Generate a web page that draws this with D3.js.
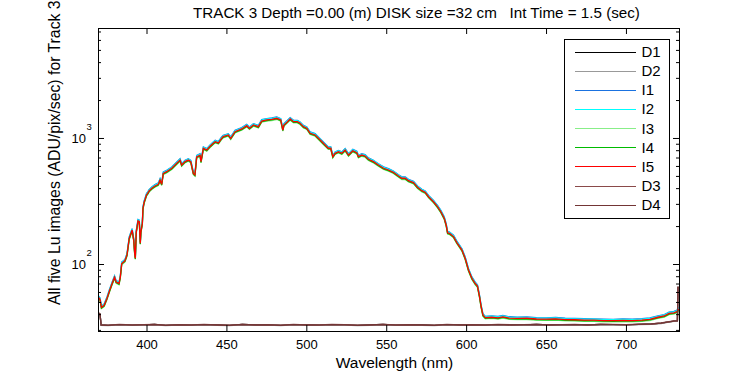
<!DOCTYPE html>
<html>
<head>
<meta charset="utf-8">
<script src="https://cdn.jsdelivr.net/npm/d3@7"></script>
<style>
  body { margin: 0; background: #fff; }
  svg { font-family: Arial, "Liberation Sans", sans-serif; }
</style>
</head>
<body>
<svg width="750" height="375"></svg>
<script>
// wavelength grid (nm) and the I5 spectrum
const wavelength = [
  369.7, 370.9, 371.8, 373.5, 375.3, 377, 378.3, 380, 381, 382.8, 383.6, 384.5, 386.5, 387.8,
  389.2, 391, 392, 392.6, 393, 393.6, 394.7, 395.5, 396.1, 396.5, 397.4, 397.8, 398.6, 399,
  400, 401, 401.6, 403.3, 405.3, 407.4, 408.5, 409.5, 410.5, 412.6, 415.8, 418.9, 421, 422,
  424.1, 426.2, 427.7, 429.3, 430.3, 431.4, 433.5, 434.1, 435.6, 437.7, 439.8, 441.8, 443, 445,
  447, 448, 451.2, 452.7, 455.4, 459.6, 462.7, 464.4, 466.9, 470, 472.1, 475.3, 478.4, 481.5,
  484, 485.3, 486, 488.2, 489.9, 492, 494.4, 496.1, 498.2, 500.3, 502.4, 505.5, 507.6, 510.7,
  513.8, 515.3, 516.6, 518, 520.1, 522.2, 524.3, 526.4, 529.1, 531.6, 532.6, 534.7, 536.8, 538.9,
  542, 545.1, 548.3, 551.4, 554.5, 557.7, 559.8, 561.9, 563.9, 567.1, 569.6, 572.3, 574.4, 576.5,
  579.6, 582.1, 584.2, 586.3, 587.5, 588.4, 589.6, 592.1, 594.2, 597.4, 599.4, 601.5, 603.6, 605.7,
  607.1, 608.4, 609.4, 610.5, 612, 616, 620, 623, 627, 632, 638, 644, 650, 656,
  662, 668, 674, 680, 686, 692, 698, 704, 710, 715, 720, 724, 727, 730,
  732, 733.2
]
const luI5 = [
  55, 52.5, 45.3, 47, 53.5, 62, 69, 78.5, 72, 70, 78.5, 101, 106, 118,
  160, 186, 155, 122, 111, 180, 220, 217, 146, 180, 210, 277, 312, 322,
  353, 368, 380, 399, 416, 429, 464, 429, 524, 540, 575, 630, 668, 610,
  649, 668, 649, 524, 509, 708, 730, 649, 829, 803, 860, 907, 935, 915,
  994, 1024, 1056, 994, 1122, 1179, 1252, 1194, 1268, 1229, 1364, 1390, 1407, 1433,
  1390, 1157, 1268, 1347, 1415, 1347, 1347, 1308, 1229, 1194, 1090, 1056, 994, 907,
  829, 829, 711, 756, 778, 756, 803, 732, 793, 765, 711, 732, 720, 678,
  649, 610, 575, 557, 534, 499, 479, 479, 458, 442, 406, 382, 371, 342,
  312, 285, 260, 231, 204, 177, 175, 165, 148, 129, 111, 89.5, 77, 70,
  66.7, 55, 45.8, 39.4, 37.5, 37.8, 37.4, 38.1, 37.2, 37.0, 37.1, 36.6, 36.5, 36.7,
  36.2, 36.1, 35.9, 35.8, 35.6, 35.5, 35.7, 35.6, 35.9, 36.4, 37.8, 38.7, 40.5, 41,
  42, 44
]

// dark frames
const darkWavelength = [
  369.7, 370.9, 371.6, 376, 383, 391, 398, 405, 412, 420, 428, 436, 444, 452,
  460, 468, 476, 484, 492, 500, 508, 516, 524, 532, 540, 548, 556, 564,
  572, 580, 588, 596, 604, 612, 620, 628, 636, 644, 652, 660, 668, 676,
  684, 692, 700, 708, 716, 722, 726, 730, 732.2, 732.6
]
const darkLu = [
  41, 40, 32.8, 32.6, 33.0, 32.7, 32.9, 33.1, 32.6, 32.9, 32.7, 33.0, 32.8, 32.6,
  33.1, 32.8, 32.9, 32.6, 33.0, 32.8, 32.7, 33.0, 32.9, 32.6, 32.8, 33.1, 32.7, 32.9,
  32.8, 32.6, 33.0, 32.8, 32.9, 32.7, 33.0, 32.8, 32.9, 33.1, 32.8, 32.9, 33.0, 32.8,
  33.1, 33.0, 32.9, 33.2, 33.4, 33.9, 34.6, 35.2, 35.4, 66
]

// legend order = drawing order
const seriesNames = ["D1", "D2", "I1", "I2", "I3", "I4", "I5", "D3", "D4"]
const seriesKind = ["dark", "dark", "light", "light", "light", "light", "light", "dark", "dark"]
// relative level of each image against I5 / the dark reference
const seriesGain = [1.0, 0.995, 1.025, 1.018, 0.978, 0.988, 1.0, 1.004, 1.0]
const seriesColors = ["#000000", "#999999", "#1a72e0", "#00ffff", "#88ee88", "#00bb00", "#ff0000", "#8a4a4a", "#733535"]

const xTicks = [400, 450, 500, 550, 600, 650, 700]
const yMajor = [100, 1000]
const yMinor = [30, 40, 50, 60, 70, 80, 90, 200, 300, 400, 500, 600, 700, 800, 900, 2000, 3000, 4000, 5000, 6000, 7000]

const titleText = "TRACK 3 Depth =0.00 (m) DISK size =32 cm   Int Time = 1.5 (sec)"

const plotLeft = 98, plotRight = 679, plotTop = 28, plotBottom = 331

const svg = d3.select("svg")

const x = d3.scaleLinear()
  .domain([369.65, 733.2])
  .range([plotLeft, plotRight])

const y = d3.scaleLog()
  .domain([29.4, 7460])
  .range([plotBottom, plotTop])

svg.append("defs")
  .append("clipPath")
  .attr("id", "plot")
  .append("rect")
  .attr("x", plotLeft)
  .attr("y", plotTop)
  .attr("width", plotRight - plotLeft)
  .attr("height", plotBottom - plotTop)

// series lines
const line = d3.line()
  .x(d => x(d[0]))
  .y(d => y(d[1]))

const plot = svg.append("g").attr("clip-path", "url(#plot)")

seriesNames.forEach((name, i) => {
  let pts
  if (seriesKind[i] == "dark") {
    pts = darkWavelength.map((w, j) => [w, darkLu[j] * seriesGain[i]])
  } else {
    pts = wavelength.map((w, j) => [w, luI5[j] * seriesGain[i]])
  }
  plot.append("path")
    .datum(pts)
    .attr("fill", "none")
    .attr("stroke", seriesColors[i])
    .attr("stroke-width", 1.3)
    .attr("d", line)
})

// axes, ticks pointing inward
const styleAxis = g => {
  g.select(".domain").remove()
  g.attr("font-size", 13).attr("font-family", null)
  g.selectAll("text").attr("fill", "#000")
}

svg.append("g")
  .attr("transform", `translate(0, ${plotBottom})`)
  .call(d3.axisBottom(x).tickValues(xTicks).tickSizeInner(-6).tickSizeOuter(0).tickPadding(9))
  .call(styleAxis)

svg.append("g")
  .attr("transform", `translate(0, ${plotTop})`)
  .call(d3.axisTop(x).tickValues(xTicks).tickSizeInner(-6).tickSizeOuter(0).tickFormat(""))
  .call(styleAxis)

svg.append("g")
  .attr("transform", `translate(${plotLeft}, 0)`)
  .call(d3.axisLeft(y).tickValues(yMajor).tickSizeInner(-6).tickSizeOuter(0).tickFormat(""))
  .call(styleAxis)

svg.append("g")
  .attr("transform", `translate(${plotLeft}, 0)`)
  .call(d3.axisLeft(y).tickValues(yMinor).tickSizeInner(-3).tickSizeOuter(0).tickFormat(""))
  .call(styleAxis)

svg.append("g")
  .attr("transform", `translate(${plotRight}, 0)`)
  .call(d3.axisRight(y).tickValues(yMajor).tickSizeInner(-6).tickSizeOuter(0).tickFormat(""))
  .call(styleAxis)

svg.append("g")
  .attr("transform", `translate(${plotRight}, 0)`)
  .call(d3.axisRight(y).tickValues(yMinor).tickSizeInner(-3).tickSizeOuter(0).tickFormat(""))
  .call(styleAxis)

// 10^n labels
yMajor.forEach(v => {
  svg.append("text")
    .attr("x", 86)
    .attr("y", y(v) + 5)
    .attr("text-anchor", "end")
    .attr("font-size", 13)
    .text("10")
  svg.append("text")
    .attr("x", 86.5)
    .attr("y", y(v) - 8)
    .attr("font-size", 9.5)
    .text(Math.round(Math.log10(v)))
})

// frame
svg.append("rect")
  .attr("x", plotLeft + 0.5)
  .attr("y", plotTop + 0.5)
  .attr("width", plotRight - plotLeft)
  .attr("height", plotBottom - plotTop)
  .attr("fill", "none")
  .attr("stroke", "#000")

// title and axis labels
svg.append("text")
  .attr("x", 193)
  .attr("y", 18.3)
  .attr("font-size", 15.2)
  .style("white-space", "pre")
  .text(titleText)

svg.append("text")
  .attr("x", 394.5)
  .attr("y", 368)
  .attr("text-anchor", "middle")
  .attr("font-size", 15.5)
  .text("Wavelength (nm)")

svg.append("text")
  .attr("transform", "translate(60, 305) rotate(-90)")
  .attr("font-size", 15.8)
  .text("All five Lu images (ADU/pix/sec) for Track 3")

// legend
const legend = svg.append("g")

legend.append("rect")
  .attr("x", 564.5)
  .attr("y", 39.5)
  .attr("width", 105)
  .attr("height", 179)
  .attr("fill", "#fff")
  .attr("stroke", "#000")

seriesNames.forEach((name, i) => {
  const ly = 51.5 + i * 19.15
  legend.append("line")
    .attr("x1", 575)
    .attr("x2", 636)
    .attr("y1", Math.round(ly) + 0.5)
    .attr("y2", Math.round(ly) + 0.5)
    .attr("stroke", seriesColors[i])
    .attr("stroke-width", 1)
  legend.append("text")
    .attr("x", 641.5)
    .attr("y", ly + 5.5)
    .attr("font-size", 15)
    .text(name)
})
</script>
</body>
</html>
